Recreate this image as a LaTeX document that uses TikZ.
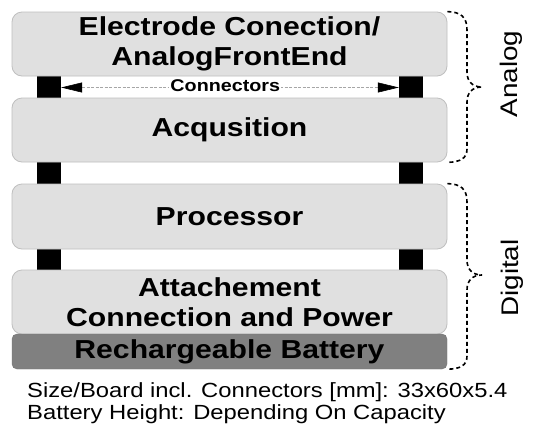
\documentclass[tikz,border=0pt]{standalone}
\usepackage{graphicx}
\usepackage{fontspec}
\setmainfont{Liberation Sans}
\usetikzlibrary{arrows.meta}
\newcommand\wx[1]{\scalebox{1.16}[1]{#1}}
\newcommand\wy[1]{\scalebox{1.16}[1]{#1}}
\tikzset{
  board/.style={draw=black!25, fill=black!12, rounded corners=10pt, minimum width=435pt,
    inner sep=0pt, line width=0.8pt, align=center, font=\bfseries\fontsize{26}{30.5}\selectfont},
  battery/.style={draw=black!55, fill=black!50, rounded corners=5pt, minimum width=435pt,
    minimum height=35pt, inner sep=0pt, font=\bfseries\fontsize{26}{30}\selectfont},
  pillar/.style={fill=black, minimum width=24pt, inner sep=0pt},
  conn/.style={draw=black!35, line width=0.6pt, dash pattern=on 3pt off 1.5pt,
    {Triangle[length=21pt,width=10pt,color=black]}-{Triangle[length=21pt,width=10pt,color=black]}},
  connlabel/.style={fill=white, inner sep=1pt, font=\bfseries\fontsize{17}{17}\selectfont},
  bracepath/.style={draw=black, line width=1.6pt, dash pattern=on 4pt off 3pt},
  side/.style={rotate=90, inner sep=0pt, font=\fontsize{24}{24}\selectfont},
  info/.style={anchor=base west, inner sep=0pt, font=\fontsize{20.5}{22}\selectfont},
}
\begin{document}
\begin{tikzpicture}[x=1pt,y=-1pt]
\useasboundingbox (0,0) rectangle (533,426);
\fill[white] (0,0) rectangle (533,426);

% pillars (behind boards)
\node[pillar, minimum height=24pt] (pl1) at (49,87) {};
\node[pillar, minimum height=24pt] (pr1) at (411,87) {};
\node[pillar, minimum height=24pt] (pl2) at (49,173) {};
\node[pillar, minimum height=24pt] (pr2) at (411,173) {};
\node[pillar, minimum height=23pt] (pl3) at (49,259.5) {};
\node[pillar, minimum height=23pt] (pr3) at (411,259.5) {};

% boards
\node[board, minimum height=64pt] (b1) at (229.5,44) {\wx{Electrode Conection/}\\\wx{AnalogFrontEnd}};
\node[board, minimum height=64pt] (b2) at (229.5,130) {\wx{Acqusition}};
\node[board, minimum height=65pt] (b3) at (229.5,216.5) {\wx{Processor}};
\node[board, minimum height=64pt] (b4) at (229.5,302) {\wx{Attachement}\\\wx{Connection and Power}};
\node[battery] (b5) at (229.5,351.5) {\wx{Rechargeable Battery}};

% connectors arrow
\path (pl1.east) -- (pr1.west) coordinate[pos=0.486] (cl);
\draw[conn] ([yshift=-0.5pt]pl1.east) -- ([yshift=-0.5pt]pr1.west);
\node[connlabel] (clab) at ([yshift=1pt]cl) {\wx{Connectors}};

% braces
\draw[bracepath] (b1.north east) .. controls (461,12) and (467,17) .. (467,30) -- (467,72)
  .. controls (467,81) and (472,87) .. (482,87) coordinate (ta)
  .. controls (472,87) and (467,93) .. (467,102) -- (467,149)
  .. controls (467,158) and (461,162) .. (b2.south east);
\draw[bracepath] (b3.north east) .. controls (461,184) and (467,189) .. (467,202) -- (467,260)
  .. controls (467,269) and (472,275) .. (482,275) coordinate (td)
  .. controls (472,275) and (467,281) .. (467,290) -- (467,356)
  .. controls (467,365) and (461,369) .. (b5.south east);

\node[side] (analog) at (511,74) {\wy{Analog}};
\node[side] (digital) at (512,278) {\wy{Digital}};

% notes
\node[info] (info1) at (27,397) {\wx{Size/Board incl. Connectors [mm]: 33x60x5.4}};
\node[info] (info2) at (27,419) {\wx{Battery Height: Depending On Capacity}};
\end{tikzpicture}
\end{document}
